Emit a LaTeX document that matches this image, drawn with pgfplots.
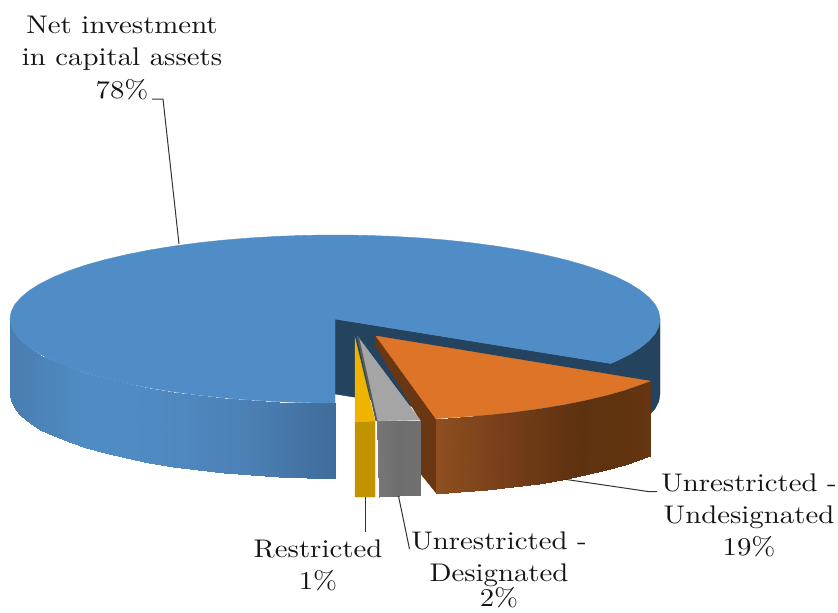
\documentclass[border=0pt]{standalone}
\usepackage{graphicx}
\usepackage{pgfplots}
\pgfplotsset{compat=1.18}
\definecolor{bluetop}{RGB}{80,141,198}
\definecolor{navy}{RGB}{36,67,95}
\definecolor{orangetop}{RGB}{221,116,40}
\definecolor{orangewall}{RGB}{106,55,19}
\definecolor{greytop}{RGB}{165,165,165}
\definecolor{greywall}{RGB}{90,90,90}
\definecolor{yellowtop}{RGB}{238,180,0}
\definecolor{yellowfront}{RGB}{194,147,0}
\definecolor{txt}{RGB}{20,20,20}
\newcommand{\lab}[3]{\node[anchor=base,text=txt,inner sep=0pt] at (axis cs:#1,#2) {\scalebox{2.88}[2.55]{\fontsize{10}{10}\selectfont #3}};}
\begin{document}
\begin{tikzpicture}
\clip[use as bounding box] (0,0) rectangle (838pt,613pt);
\begin{axis}[at={(0,0)},anchor=south west,scale only axis,width=838pt,height=613pt,
  xmin=0,xmax=838,ymin=0,ymax=613,y dir=reverse,hide axis,clip=false,
  point meta min=0,point meta max=1]
% outer right side + inner wall of the big slice
\addplot[fill=navy,draw=navy] coordinates {(335,319)(610.6,363.5)(616.5,361)(629.5,354.5)(640.4,347.7)(648.9,340.7)(655.1,333.6)(658.8,326.3)(660,319)(660,394)(658.8,401.3)(655.1,408.6)(648.9,415.7)(640.4,422.7)(629.5,429.5)(616.5,436)(610.6,438.5)(335,394)} -- cycle;
% left front wall of the big slice
\addplot[surf,shader=interp,mesh/rows=2,point meta=\thisrow{c},
  colormap={bluewall}{rgb255=(74,125,177) rgb255=(80,140,196) rgb255=(80,138,194) rgb255=(76,129,182) rgb255=(63,109,155)}]
 table {
x y c
10 319 0
11.2 326.3 0.004
14.9 333.6 0.02
21.1 340.7 0.04
29.6 347.7 0.06
40.5 354.5 0.1
53.5 361 0.14
68.8 367.2 0.2
86 373 0.25
105.2 378.4 0.3
126.1 383.3 0.4
148.6 387.8 0.47
172.5 391.7 0.55
197.7 395.1 0.62
223.8 397.9 0.7
250.9 400.1 0.77
278.6 401.7 0.85
306.7 402.7 0.93
335 403 1

10 394 0
11.2 401.3 0.004
14.9 408.6 0.02
21.1 415.7 0.04
29.6 422.7 0.06
40.5 429.5 0.1
53.5 436 0.14
68.8 442.2 0.2
86 448 0.25
105.2 453.4 0.3
126.1 458.3 0.4
148.6 462.8 0.47
172.5 466.7 0.55
197.7 470.1 0.62
223.8 472.9 0.7
250.9 475.1 0.77
278.6 476.7 0.85
306.7 477.7 0.93
335 478 1
};
% top of the big slice
\addplot[fill=bluetop,draw=bluetop] coordinates {(335,319)(610.6,363.5)(616.5,361)(629.5,354.5)(640.4,347.7)(648.9,340.7)(655.1,333.6)(658.8,326.3)(660,319)(658.8,311.7)(655.1,304.4)(648.9,297.3)(640.4,290.3)(629.5,283.5)(616.5,277)(601.2,270.8)(584,265)(564.8,259.6)(543.9,254.7)(521.4,250.2)(497.5,246.3)(472.3,242.9)(446.2,240.1)(419.1,237.9)(391.4,236.3)(363.3,235.3)(335,235)(306.7,235.3)(278.6,236.3)(250.9,237.9)(223.8,240.1)(197.7,242.9)(172.5,246.3)(148.6,250.2)(126.1,254.7)(105.2,259.6)(86,265)(68.8,270.8)(53.5,277)(40.5,283.5)(29.6,290.3)(21.1,297.3)(14.9,304.4)(11.2,311.7)(10,319)(11.2,326.3)(14.9,333.6)(21.1,340.7)(29.6,347.7)(40.5,354.5)(53.5,361)(68.8,367.2)(86,373)(105.2,378.4)(126.1,383.3)(148.6,387.8)(172.5,391.7)(197.7,395.1)(223.8,397.9)(250.9,400.1)(278.6,401.7)(306.7,402.7)(335,403)} -- cycle;
% orange slice
\addplot[fill=orangewall,draw=orangewall] coordinates {(376,336)(375,345)(420,420)(420,473)(437,494)(436,418.6)} -- cycle;
\addplot[surf,shader=interp,mesh/rows=2,point meta=\thisrow{c},
  colormap={orangefront}{rgb255=(142,79,32) rgb255=(118,62,25) rgb255=(94,50,16) rgb255=(99,53,16)}]
 table {
x y c
435.8 418.6 0
460.1 417.1 0.11
487.2 414.9 0.24
513.4 412.1 0.36
538.5 408.7 0.48
562.4 404.8 0.59
584.9 400.3 0.69
605.8 395.4 0.79
624.9 390 0.88
650.1 381.1 1

435.8 493.6 0
460.1 492.1 0.11
487.2 489.9 0.24
513.4 487.1 0.36
538.5 483.7 0.48
562.4 479.8 0.59
584.9 475.3 0.69
605.8 470.4 0.79
624.9 465 0.88
650.1 456.1 1
};
\addplot[fill=orangetop,draw=orangetop] coordinates {(376,336)(650.1,381.1)(624.9,390)(605.8,395.4)(584.9,400.3)(562.4,404.8)(538.5,408.7)(513.4,412.1)(487.2,414.9)(460.1,417.1)(435.8,418.6)} -- cycle;
% grey slice
\addplot[surf,shader=interp,mesh/rows=2,point meta=\thisrow{c},
  colormap={greyfront}{rgb255=(118,118,118) rgb255=(110,110,110) rgb255=(112,112,112)}]
 table {
x y c
377 421 0
398 420.5 0.5
420 420 1

379 497 0
399 496 0.5
420 495 1
};
\addplot[fill=greytop,draw=greytop] coordinates {(358,337)(420,420)(377,421)} -- cycle;
\addplot[fill=greywall,draw=none] coordinates {(357,337)(375.5,421)(377.5,421)(359,337)} -- cycle;
% yellow slice
\addplot[fill=yellowfront,draw=yellowfront] coordinates {(355,422)(375,421)(375,497)(355,497)} -- cycle;
\addplot[fill=yellowtop,draw=yellowtop] coordinates {(355,338)(375,421)(355,422)} -- cycle;
% leader lines
\addplot[black!80,line width=1pt] coordinates {(152,99)(163,99)(179,244)};
\addplot[black!80,line width=1pt] coordinates {(365,497)(365,532)};
\addplot[black!80,line width=1pt] coordinates {(398.5,496)(409.5,549)};
\addplot[black!80,line width=1pt] coordinates {(563,479)(648,491.5)(657,491.5)};
% labels
\lab{122}{33}{Net investment}
\lab{122}{65}{in capital assets}
\lab{122}{98}{78\%}
\lab{749}{491}{Unrestricted -}
\lab{749}{523}{Undesignated}
\lab{749}{555}{19\%}
\lab{318}{557}{Restricted}
\lab{318}{589}{1\%}
\lab{499}{549}{Unrestricted -}
\lab{499}{581}{Designated}
\lab{499}{606}{2\%}
\end{axis}
\end{tikzpicture}
\end{document}
